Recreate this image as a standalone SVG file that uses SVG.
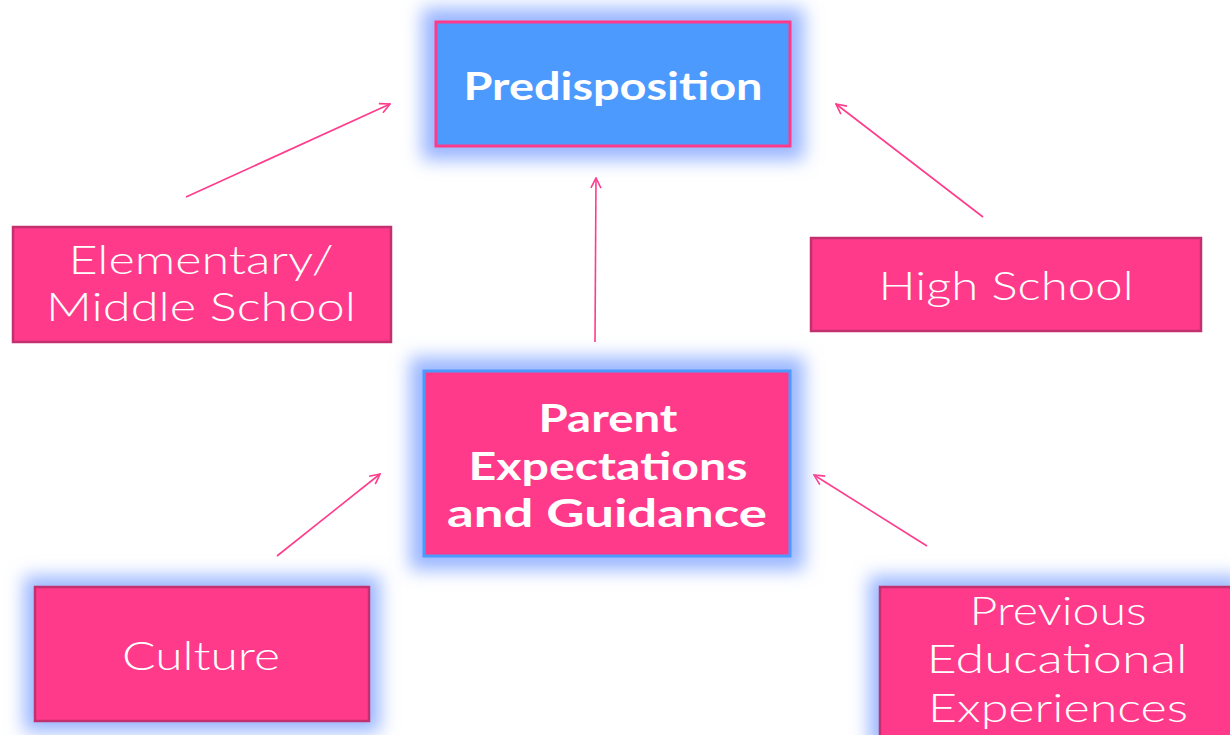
<svg xmlns="http://www.w3.org/2000/svg" width="1230" height="735" viewBox="0 0 1230 735">
  <style>
    .box { fill: #ff3a8a; stroke: #c3306f; stroke-width: 2.5; }
    .glow { fill: #9ab6ff; filter: url(#soft); }
    .lbl { font-family: Lato, "Open Sans", "Liberation Sans", sans-serif; font-weight: 300; font-size: 39px; fill: #ffffff; text-anchor: middle; }
    .bold { font-family: Lato, "Liberation Sans", sans-serif; font-weight: 700; font-size: 39px; fill: #ffffff; text-anchor: middle; }
    .conn { stroke: #ff3c8c; stroke-width: 1.6; fill: none; marker-end: url(#arrow); }
  </style>
  <defs>
    <filter id="soft" x="-25%" y="-35%" width="150%" height="170%">
      <feGaussianBlur stdDeviation="9"/>
    </filter>
    <marker id="arrow" viewBox="0 0 12 12" refX="11" refY="6" markerWidth="12" markerHeight="12" markerUnits="userSpaceOnUse" orient="auto">
      <path d="M1,1 L11,6 L1,11" fill="none" stroke="#ff3c8c" stroke-width="1.6"/>
    </marker>
  </defs>
  <rect width="1230" height="735" fill="#ffffff"/>

  <g id="connectors">
    <line class="conn" x1="186" y1="197" x2="390" y2="104"/>
    <line class="conn" x1="983" y1="217" x2="836" y2="104"/>
    <line class="conn" x1="595" y1="342" x2="596" y2="178"/>
    <line class="conn" x1="277" y1="556" x2="380" y2="474"/>
    <line class="conn" x1="927" y1="546" x2="814" y2="475"/>
  </g>

  <g id="predisposition">
    <rect class="glow" x="422" y="8" width="382" height="152"/>
    <rect x="436" y="22" width="354" height="124" fill="#4d9aff" stroke="#ff3a8a" stroke-width="3"/>
    <text class="bold" x="613" y="100" textLength="299" lengthAdjust="spacingAndGlyphs">Predisposition</text>
  </g>

  <g id="parent">
    <rect class="glow" x="410" y="357" width="394" height="213"/>
    <rect x="424" y="371" width="366" height="185" fill="#ff3a8a" stroke="#4d9aff" stroke-width="3"/>
    <text class="bold" x="608" y="432" textLength="139" lengthAdjust="spacingAndGlyphs">Parent</text>
    <text class="bold" x="608" y="480" textLength="279" lengthAdjust="spacingAndGlyphs">Expectations</text>
    <text class="bold" x="607" y="527" textLength="320" lengthAdjust="spacingAndGlyphs">and Guidance</text>
  </g>

  <g id="elementary">
    <rect class="box" x="13" y="227" width="378" height="115"/>
    <text class="lbl" x="201" y="274" textLength="265" lengthAdjust="spacingAndGlyphs">Elementary/</text>
    <text class="lbl" x="201" y="321" textLength="310" lengthAdjust="spacingAndGlyphs">Middle School</text>
  </g>

  <g id="high-school">
    <rect class="box" x="811" y="238" width="390" height="93"/>
    <text class="lbl" x="1006" y="300" textLength="255" lengthAdjust="spacingAndGlyphs">High School</text>
  </g>

  <g id="culture">
    <rect class="glow" x="24" y="576" width="356" height="156"/>
    <rect class="box" x="35" y="587" width="334" height="134"/>
    <text class="lbl" x="201" y="670" textLength="158" lengthAdjust="spacingAndGlyphs">Culture</text>
  </g>

  <g id="previous">
    <rect class="glow" x="869" y="576" width="374" height="172"/>
    <rect class="box" x="880" y="587" width="360" height="160"/>
    <text class="lbl" x="1058" y="625" textLength="177" lengthAdjust="spacingAndGlyphs">Previous</text>
    <text class="lbl" x="1057" y="673" textLength="261" lengthAdjust="spacingAndGlyphs">Educational</text>
    <text class="lbl" x="1058" y="722" textLength="260" lengthAdjust="spacingAndGlyphs">Experiences</text>
  </g>
</svg>
